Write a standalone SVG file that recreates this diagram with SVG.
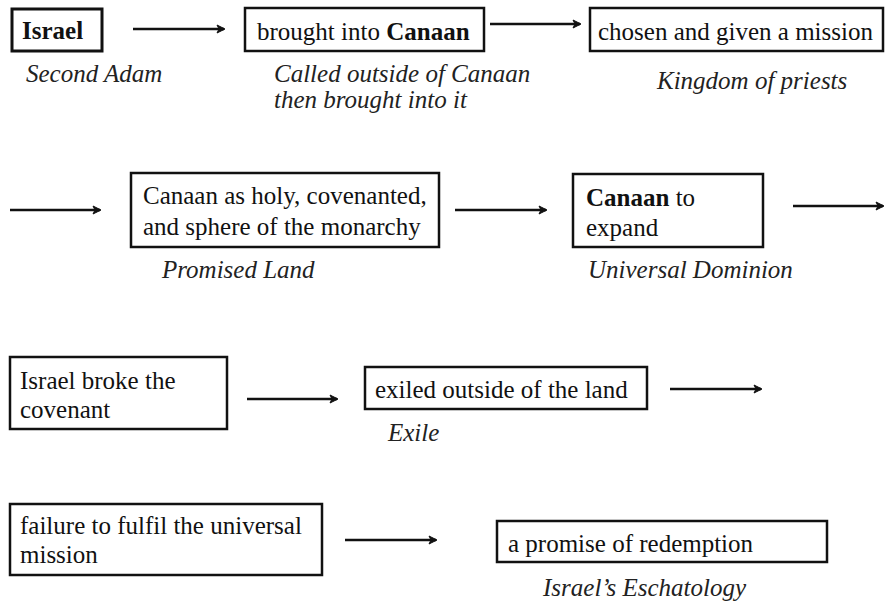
<svg xmlns="http://www.w3.org/2000/svg" width="885" height="605" viewBox="0 0 885 605">
<defs>
<style>
.box{fill:#fff;stroke:#111;stroke-width:2.5}
.t{font-family:"Liberation Serif","Times New Roman",serif;font-size:25px;fill:#111}
.b{font-weight:bold}
.i{font-family:"Liberation Serif","Times New Roman",serif;font-size:25px;font-style:italic;fill:#222}
.c{stroke:#111;stroke-width:2.5;fill:none;marker-end:url(#ah)}
</style>
<marker id="ah" markerWidth="10" markerHeight="10" refX="8" refY="5" orient="auto" markerUnits="userSpaceOnUse">
<path d="M1,1 L9,5 L1,9 L3,5 Z" fill="#111" stroke="#111" stroke-width="1" stroke-linejoin="round"/>
</marker>
</defs>
<rect width="885" height="605" fill="#fff"/>
<g id="connectors">
<line class="c" x1="133" y1="29" x2="224" y2="29"/>
<line class="c" x1="490" y1="24" x2="580" y2="24"/>
<line class="c" x1="10" y1="210" x2="100" y2="210"/>
<line class="c" x1="455" y1="210" x2="546" y2="210"/>
<line class="c" x1="793" y1="206" x2="883" y2="206"/>
<line class="c" x1="247" y1="399" x2="337" y2="399"/>
<line class="c" x1="670" y1="389" x2="761" y2="389"/>
<line class="c" x1="345" y1="540" x2="436" y2="540"/>
</g>
<g id="israel">
<rect class="box" x="12" y="9" width="90" height="42" style="stroke-width:3"/>
<text class="t b" x="22" y="39">Israel</text>
<text class="i" x="26" y="82">Second Adam</text>
</g>
<g id="brought">
<rect class="box" x="245" y="8" width="239" height="43"/>
<text class="t" x="257" y="40">brought into <tspan class="b">Canaan</tspan></text>
<text class="i" x="274" y="82">Called outside of Canaan</text>
<text class="i" x="274" y="108">then brought into it</text>
</g>
<g id="chosen">
<rect class="box" x="590" y="8" width="293" height="43"/>
<text class="t" x="598" y="40">chosen and given a mission</text>
<text class="i" x="657" y="89">Kingdom of priests</text>
</g>
<g id="promised">
<rect class="box" x="131" y="173" width="308" height="74"/>
<text class="t" x="143" y="204">Canaan as holy, covenanted,</text>
<text class="t" x="143" y="235">and sphere of the monarchy</text>
<text class="i" x="162" y="278">Promised Land</text>
</g>
<g id="expand">
<rect class="box" x="573" y="174" width="190" height="73"/>
<text class="t" x="586" y="206"><tspan class="b">Canaan</tspan> to</text>
<text class="t" x="586" y="236">expand</text>
<text class="i" x="588" y="278">Universal Dominion</text>
</g>
<g id="broke">
<rect class="box" x="10" y="357" width="217" height="72"/>
<text class="t" x="20" y="389">Israel broke the</text>
<text class="t" x="20" y="418">covenant</text>
</g>
<g id="exiled">
<rect class="box" x="365" y="367" width="282" height="42"/>
<text class="t" x="375" y="398">exiled outside of the land</text>
<text class="i" x="388" y="441">Exile</text>
</g>
<g id="failure">
<rect class="box" x="10" y="504" width="312" height="71"/>
<text class="t" x="20" y="534">failure to fulfil the universal</text>
<text class="t" x="20" y="563">mission</text>
</g>
<g id="promise">
<rect class="box" x="497" y="521" width="330" height="41"/>
<text class="t" x="508" y="552">a promise of redemption</text>
<text class="i" x="543" y="596">Israel’s Eschatology</text>
</g>
</svg>
